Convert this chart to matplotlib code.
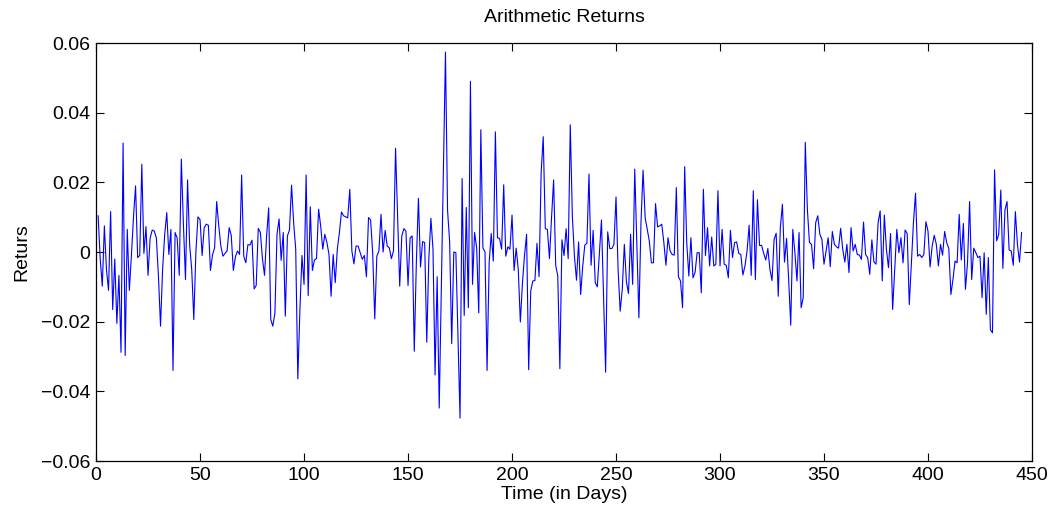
import numpy as np
import matplotlib
matplotlib.use("Agg")
import matplotlib.pyplot as plt

# daily arithmetic returns, in blocks of 50 days
returns_001_050 = [0.0104, -0.002, -0.0098, 0.0075, -0.005, -0.011, 0.0116, -0.0165, -0.002, -0.0205,
                   -0.0067, -0.0288, 0.0313, -0.0297, 0.0065, -0.011, -0.001, 0.010, 0.019, -0.0016,
                   -0.001, 0.0252, -0.0004, 0.0073, -0.0067, 0.004, 0.0063, 0.006, 0.004, -0.007,
                   -0.0213, -0.005, 0.005, 0.0113, -0.0007, 0.0065, -0.034, 0.0056, 0.004, -0.0067,
                   0.0267, 0.008, -0.0079, 0.0207, 0.002, -0.005, -0.0194, 0.0, 0.0101, 0.0093]
returns_051_100 = [-0.001, 0.007, 0.008, 0.0077, -0.0053, -0.0008, 0.0012, 0.0145, 0.0075, 0.0017,
                   -0.0012, -0.0004, 0.0003, 0.007, 0.0048, -0.0053, -0.0014, 0.0003, -0.0007, 0.0221,
                   -0.0012, -0.0031, 0.0021, 0.002, 0.0034, -0.0106, -0.0096, 0.0068, 0.0056, -0.0019,
                   -0.0067, 0.0046, 0.0127, -0.0194, -0.0213, -0.0175, 0.0051, 0.0095, -0.0024, 0.0056,
                   -0.0184, 0.0046, 0.0063, 0.0192, 0.0084, 0.0008, -0.0364, -0.017, -0.001, -0.0093]
returns_101_150 = [0.0221, -0.0125, 0.013, -0.0053, -0.0023, -0.0019, 0.0123, 0.0075, 0.0008, 0.0051,
                   0.0027, -0.0007, -0.0127, -0.0007, -0.0088, 0.0008, 0.0056, 0.0115, 0.0104, 0.0101,
                   0.0098, 0.018, 0.0003, -0.0034, 0.0017, 0.0017, -0.0002, -0.0021, -0.001, -0.0071,
                   0.0099, 0.0092, -0.0002, -0.0192, -0.0012, 0.0003, 0.0108, 0.0, 0.0062, 0.0017,
                   0.0012, -0.0019, 0.0003, 0.0298, 0.010, -0.0098, 0.0046, 0.0067, 0.006, -0.0096]
returns_151_200 = [0.0041, 0.0046, -0.0285, -0.003, 0.0154, -0.0043, 0.003, 0.0027, -0.0259, -0.002,
                   0.0097, 0.0008, -0.0353, -0.0071, -0.0448, -0.0107, 0.0233, 0.0574, 0.012, 0.003,
                   -0.0263, 0.0, -0.0002, -0.024, -0.0477, 0.0211, -0.0182, 0.0128, -0.016, 0.049,
                   -0.0093, 0.0056, 0.0012, -0.0175, 0.0351, 0.0012, 0.0, -0.034, -0.0031, 0.0053,
                   -0.0026, 0.0345, 0.0041, 0.0039, 0.0008, 0.0193, -0.0012, 0.0015, 0.0008, 0.0106]
returns_201_250 = [-0.0053, 0.0011, -0.005, -0.0201, -0.009, -0.001, 0.0051, -0.0338, -0.0112, -0.0083,
                   -0.0082, 0.0025, -0.0071, 0.0228, 0.0331, 0.0067, 0.0065, -0.0019, 0.0099, 0.0207,
                   -0.0038, -0.0069, -0.0335, 0.0035, -0.001, 0.0067, -0.0019, 0.0365, 0.0104, -0.0012,
                   -0.0081, 0.0029, -0.0122, -0.004, 0.002, 0.0025, 0.0224, -0.0038, 0.0062, -0.0088,
                   -0.010, -0.0002, 0.0092, -0.0127, -0.0345, 0.0058, 0.001, 0.001, 0.0022, 0.0158]
returns_251_300 = [-0.005, -0.017, -0.0107, 0.0022, -0.0086, -0.0119, 0.0051, -0.0093, 0.0238, 0.003,
                   -0.0189, 0.0084, 0.0235, 0.0099, 0.0065, 0.0032, -0.0031, -0.0031, 0.0139, 0.0072,
                   0.0075, 0.008, 0.0027, -0.0038, 0.0041, 0.0003, -0.0007, -0.0009, 0.0185, -0.0071,
                   -0.0083, -0.016, 0.0245, 0.0027, -0.0069, 0.0041, -0.0074, -0.0059, -0.0002, -0.0002,
                   -0.0117, 0.018, -0.001, 0.007, -0.004, 0.0043, -0.004, -0.0035, 0.0176, -0.004]
returns_301_350 = [0.0065, -0.0035, -0.0038, -0.0074, 0.0062, -0.0016, 0.0027, 0.0029, -0.0004, -0.0007,
                   -0.0066, -0.004, 0.0003, 0.0077, -0.0067, 0.0176, -0.0079, 0.015, 0.0019, 0.0019,
                   -0.0004, -0.0023, 0.001, -0.005, -0.0082, 0.0036, 0.0054, -0.0127, 0.007, 0.0137,
                   -0.0029, 0.0039, -0.0079, -0.021, 0.0065, -0.0002, -0.0083, 0.0056, -0.016, -0.0131,
                   0.0315, 0.0123, 0.0027, 0.0022, -0.0048, 0.0084, 0.0104, 0.0051, 0.0036, -0.0035]
returns_351_400 = [0.0003, 0.0041, -0.0042, 0.0059, 0.0022, 0.0015, 0.0011, 0.0068, 0.0008, -0.0029,
                   0.0022, -0.0059, 0.007, 0.0003, 0.0022, -0.0007, -0.0009, -0.0021, 0.0086, -0.0007,
                   -0.0016, -0.0064, 0.0035, -0.0028, -0.0035, 0.0084, 0.0118, -0.0083, 0.0106, 0.0008,
                   -0.0045, 0.0053, -0.0165, -0.005, 0.0065, -0.0002, 0.0041, -0.0031, 0.0063, 0.0053,
                   -0.0151, -0.0031, 0.0084, 0.0169, -0.0012, -0.0007, -0.0016, -0.0007, 0.0087, 0.006]
returns_401_445 = [-0.0043, 0.0017, 0.0048, 0.0022, -0.004, 0.0022, -0.0009, 0.0059, 0.0027, 0.001,
                   -0.0122, -0.0079, -0.0026, -0.0031, 0.0108, -0.0023, 0.0082, -0.0107, -0.0031, 0.0145,
                   -0.0079, 0.0011, -0.0002, -0.0016, -0.0012, -0.0131, -0.0002, -0.0179, -0.0016, -0.0223,
                   -0.0232, 0.0236, 0.0032, 0.0051, 0.0178, -0.0047, 0.0121, 0.0145, 0.0006, 0.0003,
                   -0.0038, 0.0116, 0.0022, -0.0029, 0.0056]

returns = np.concatenate([returns_001_050, returns_051_100, returns_101_150,
                          returns_151_200, returns_201_250, returns_251_300,
                          returns_301_350, returns_351_400, returns_401_445])
days = np.arange(1, len(returns) + 1)

x_ticks = [0, 50, 100, 150, 200, 250, 300, 350, 400, 450]
y_ticks = [-0.06, -0.04, -0.02, 0, 0.02, 0.04, 0.06]
y_labels = ['\u22120.06', '\u22120.04', '\u22120.02', '0', '0.02', '0.04', '0.06']

plt.rcParams['font.family'] = ['Liberation Sans', 'DejaVu Sans']
plt.rcParams['font.size'] = 13

fig = plt.figure(figsize=(10.59, 5.14), dpi=100)
ax = fig.add_axes([0.0907, 0.1031, 0.8838, 0.8132])

ax.plot(days, returns, color=(0, 0, 1), linewidth=0.8)

ax.set_xlim(0, 450)
ax.set_ylim(-0.06, 0.06)
ax.set_xticks(x_ticks)
ax.set_yticks(y_ticks)
ax.set_yticklabels(y_labels)
ax.tick_params(direction='in', top=True, right=True, length=6, width=0.8,
               labelsize=14, pad=4)
for s in ax.spines.values():
    s.set_linewidth(0.9)

ax.set_title('Arithmetic Returns', fontsize=14, pad=15)
ax.set_xlabel('Time (in Days)', fontsize=14, labelpad=2)
ax.set_ylabel('Returs', fontsize=14, labelpad=8)

fig.savefig('out.png', dpi=100)
